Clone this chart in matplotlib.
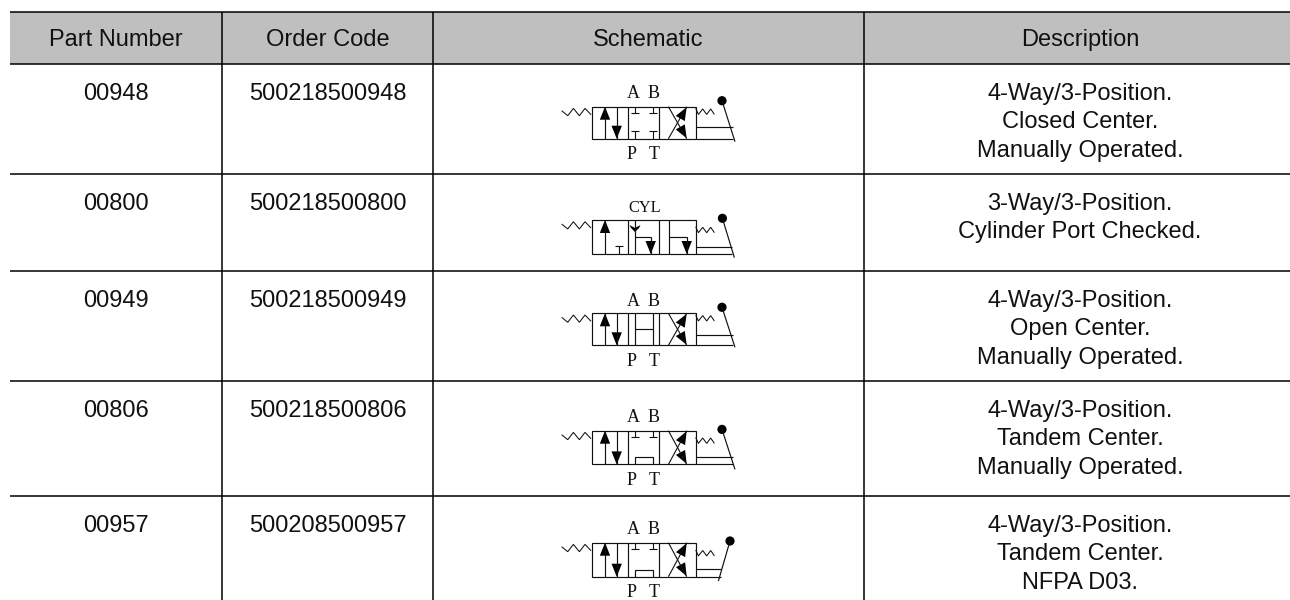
import matplotlib
matplotlib.use("Agg")
import matplotlib.pyplot as plt
import numpy as np
from matplotlib.patches import Rectangle, Circle, Polygon

headers = ["Part Number", "Order Code", "Schematic", "Description"]
part_numbers = ["00948", "00800", "00949", "00806", "00957"]
order_codes = ["500218500948", "500218500800", "500218500949", "500218500806", "500208500957"]
descriptions = [
    ["4-Way/3-Position.", "Closed Center.", "Manually Operated."],
    ["3-Way/3-Position.", "Cylinder Port Checked."],
    ["4-Way/3-Position.", "Open Center.", "Manually Operated."],
    ["4-Way/3-Position.", "Tandem Center.", "Manually Operated."],
    ["4-Way/3-Position.", "Tandem Center.", "NFPA D03."],
]
center_kinds = ["closed", "check", "open", "tandem", "tandem"]

col_edges = [10, 222, 433, 864, 1296]
row_edges = [11.5, 64, 174, 271, 381, 496, 600]
box_tops = [106.7, 220, 313.3, 430.7, 542.7]
box_heights = [32, 34, 32, 33.7, 34]
# per-row lever: ball dx, ball dy, end dx, end dy, bar y, bar reach
levers = [
    (26.3, -6, 39.3, 35, 20.7, 37),
    (26.7, -1.7, 38.7, 37.7, 26.7, 36),
    (26.3, -6, 39.3, 34, 21.7, 37),
    (26.3, -1.3, 39.3, 38.7, 26, 37),
    (34.3, -1.7, 22.7, 38.3, 26.7, 25.3),
]
spring_shift = [0, 5, 0, 5, 5.5]
ab_offset = [8.7, 7.7, 7.7, 9, 8.7]

BOX_L, BOX_W = 591.7, 104
LW = 0.85
INK = "#111111"

fig = plt.figure(figsize=(12.9, 6.0), dpi=100)
ax = fig.add_axes([0, 0, 1, 1])
ax.set_xlim(0, 1290)
ax.set_ylim(600, 0)
ax.axis("off")


def seg(xs, ys, lw=LW):
    ax.plot(xs, ys, color=INK, lw=lw, solid_capstyle="butt", solid_joinstyle="miter")


def head(tx, ty, dx, dy, length=13, half=5.2):
    n = np.hypot(dx, dy)
    ux, uy = dx / n, dy / n
    bx, by = tx - ux * length, ty - uy * length
    ax.add_patch(Polygon([(tx, ty), (bx - uy * half, by + ux * half), (bx + uy * half, by - ux * half)],
                         closed=True, fc="black", ec="none"))


def tee(x, bar_y, end_y):
    seg([x - 4, x + 4], [bar_y, bar_y], lw=0.8)
    seg([x, x], [bar_y, end_y], lw=0.8)


def schematic(i):
    L, T, H = BOX_L, box_tops[i], box_heights[i]
    R, B = L + BOX_W, T + H
    kind = center_kinds[i]
    ax.add_patch(Rectangle((L, T), BOX_W, H, fc="none", ec=INK, lw=LW))
    seg([L + 36, L + 36], [T, B])
    seg([L + 67.6, L + 67.6], [T, B])

    # left envelope
    seg([L + 13.3] * 2, [T + (0 if kind != "check" else 0), B])
    head(L + 13.3, T, 0, -1)
    if kind == "check":
        tee(L + 27.3, T + 26, B)
    else:
        seg([L + 25] * 2, [T, B])
        head(L + 25, B, 0, 1)

    # centre envelope
    a, b = L + 43.3, L + 61
    if kind == "open":
        seg([a, a], [T, B])
        seg([b, b], [T, B])
        seg([a, b], [(T + B) / 2] * 2)
    elif kind == "check":
        seg([a, a], [T, B])
        seg([a, b - 2], [T + 16.7] * 2)
        seg([b - 2, b - 2], [T + 16.7, B])
        head(b - 2, B, 0, 1)
        ax.add_patch(Polygon([(a - 5.5, T + 5), (a, T + 8), (a + 5.5, T + 5), (a + 4, T + 8),
                              (a, T + 12), (a - 4, T + 8)], closed=True, fc="black", ec="none"))
    else:
        tee(a, T + 6.7, T)
        tee(b, T + 6.7, T)
        if kind == "closed":
            tee(a, T + 24.3, B)
            tee(b, T + 24.3, B)
        else:
            seg([a, a, b, b], [B, B - 7, B - 7, B])

    # right envelope
    if kind == "check":
        seg([L + 77, L + 77], [T, B])
        seg([L + 77, L + 95, L + 95], [T + 16.7, T + 16.7, B])
        head(L + 95, B, 0, 1)
    else:
        x0, x1 = L + 76.7, L + 95
        seg([x0, x1], [T, B], lw=0.8)
        seg([x0, x1], [B, T], lw=0.8)
        head(x1, T + 0.5, x1 - x0, -H)
        head(x1, B - 0.5, x1 - x0, H)

    # springs
    seg(L + np.array([-30, -24, -18.3, -12.3, -6.7, -0.7]),
        T + np.array([4, 9, 1.7, 9, 1.7, 8]), lw=0.75)
    s = spring_shift[i]
    seg(R + np.array([0, 2.7, 7, 11, 15, 18.7]),
        T + s + np.array([1.7, 7.7, 2.3, 7.7, 2.3, 7.7]), lw=0.75)

    # lever
    bx, by, ex, ey, bar, reach = levers[i]
    seg([R + bx, R + ex], [T + by, T + ey])
    seg([R, R + reach], [T + bar] * 2)
    seg([R, R + reach], [B, B])
    ax.add_patch(Circle((R + bx, T + by), 4.6, fc="black", ec="none"))

    # port labels
    serif = dict(family="Liberation Serif", fontsize=13, color=INK, ha="center", va="baseline")
    if kind == "check":
        ax.text(645, T - 7.7, "CYL", **{**serif, "fontsize": 11.8})
    else:
        ax.text(633, T - ab_offset[i], "A", **serif)
        ax.text(654, T - ab_offset[i], "B", **serif)
        ax.text(632, B + 20.5, "P", **serif)
        ax.text(654, B + 20.5, "T", **serif)


# table frame
ax.add_patch(Rectangle((col_edges[0], row_edges[0]), col_edges[-1] - col_edges[0],
                       row_edges[1] - row_edges[0], fc="#BFBFBF", ec="none"))
for y in row_edges[:-1]:
    ax.plot([col_edges[0], 1290], [y, y], color="black", lw=1.1, solid_capstyle="butt")
for x in col_edges[1:-1]:
    ax.plot([x, x], [row_edges[0], 600], color="black", lw=1.1, solid_capstyle="butt")

sans = dict(family="Liberation Sans", fontsize=17, color=INK, ha="center", va="baseline")
centers = [(col_edges[k] + col_edges[k + 1]) / 2 for k in range(4)]
for k, h in enumerate(headers):
    ax.text(centers[k], 45.7, h, **sans)
for i in range(5):
    base = row_edges[i + 1] + 36
    ax.text(centers[0], base, part_numbers[i], **sans)
    ax.text(centers[1], base, order_codes[i], **sans)
    for n, line in enumerate(descriptions[i]):
        ax.text(centers[3], base + n * 28.4, line, **sans)
    schematic(i)

fig.savefig("out.png", dpi=100)
